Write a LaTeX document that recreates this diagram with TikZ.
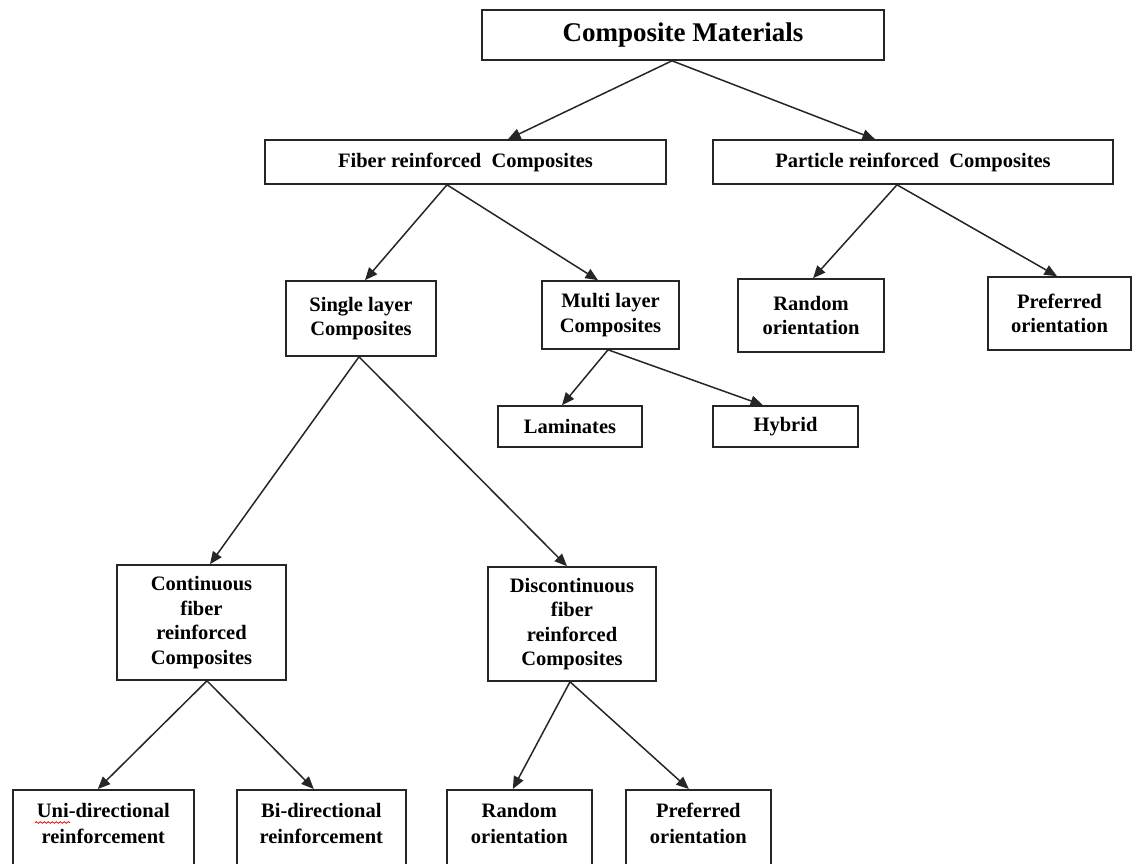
\documentclass[tikz,border=0pt]{standalone}
\usepackage{fontspec}
\setmainfont{Liberation Serif}
\usetikzlibrary{arrows.meta,decorations.pathmorphing}

\tikzset{
  box/.style={draw=black!85, line width=1.6pt, rectangle, inner sep=0pt,
              align=center, font=\bfseries\fontsize{20.5}{24.5}\selectfont},
  title/.style={box, font=\bfseries\fontsize{27}{32}\selectfont},
  lbl/.style={inner sep=0pt, align=center, anchor=north,
              font=\bfseries\fontsize{20.5}{26}\selectfont},
  arr/.style={draw=black!85, line width=1.5pt,
              -{Triangle[length=12.5pt,width=10.5pt]}},
  spell/.style={draw=red!85!black, line width=0.7pt,
                decorate, decoration={snake, amplitude=0.9pt, segment length=4pt}}
}

\begin{document}
\begin{tikzpicture}[x=1pt, y=-1pt]
  \useasboundingbox (0,0) rectangle (1133,863);
  \clip (0,0) rectangle (1133,863);

  % top level
  \node[title, minimum width=402pt, minimum height=50pt] (cm) at (683,35) {Composite Materials};

  % second level
  \node[box, minimum width=401pt, minimum height=44pt] (fiber) at (465.5,162) {Fiber reinforced~ Composites};
  \node[box, minimum width=400pt, minimum height=44pt] (particle) at (913,162) {Particle reinforced~ Composites};

  % third level
  \node[box, minimum width=150pt, minimum height=75pt] (single) at (361,318.5) {Single layer\\Composites};
  \node[box, minimum width=137pt, minimum height=68pt] (multi) at (610.5,315) {Multi layer\\Composites};
  \node[box, minimum width=146pt, minimum height=73pt] (rand1) at (811,315.5) {Random\\orientation};
  \node[box, minimum width=143pt, minimum height=73pt] (pref1) at (1059.5,313.5) {Preferred\\orientation};

  % multi layer children
  \node[box, minimum width=144pt, minimum height=41pt] (lam) at (570,426.5) {Laminates};
  \node[box, minimum width=145pt, minimum height=41pt] (hyb) at (785.5,426.5) {Hybrid};

  % fourth level
  \node[box, minimum width=169pt, minimum height=115pt] (cont) at (201.5,622.5) {Continuous\\fiber\\reinforced\\Composites};
  \node[box, minimum width=168pt, minimum height=114pt] (disc) at (572,624) {Discontinuous\\fiber\\reinforced\\Composites};

  % bottom level (boxes run past the lower edge)
  \node[box, anchor=north west, minimum width=181pt, minimum height=110pt] (uni) at (12,789) {};
  \node[box, anchor=north west, minimum width=169pt, minimum height=110pt] (bi) at (236,789) {};
  \node[box, anchor=north west, minimum width=145pt, minimum height=110pt] (rand2) at (446,789) {};
  \node[box, anchor=north west, minimum width=145pt, minimum height=110pt] (pref2) at (625,789) {};

  \node[lbl] (uniT) at ([yshift=-14pt]uni.north) {Uni-directional\\reinforcement};
  \node[lbl] (biT) at ([yshift=-14pt]bi.north) {Bi-directional\\reinforcement};
  \node[lbl] (rand2T) at ([yshift=-14pt]rand2.north) {Random\\orientation};
  \node[lbl] (pref2T) at ([yshift=-14pt]pref2.north) {Preferred\\orientation};

  % spell-check squiggle under "Uni"
  \draw[spell] ([xshift=23pt,yshift=-33.5pt]uni.north west) -- ([xshift=58pt,yshift=-33.5pt]uni.north west);

  % connectors
  \draw[arr] ([xshift=-11pt]cm.south) -- ([xshift=42.5pt]fiber.north);
  \draw[arr] ([xshift=-11pt]cm.south) -- ([xshift=-38pt]particle.north);

  \draw[arr] ([xshift=-18.5pt]fiber.south) -- ([xshift=4pt]single.north);
  \draw[arr] ([xshift=-18.5pt]fiber.south) -- ([xshift=-12.5pt]multi.north);

  \draw[arr] ([xshift=-16pt]particle.south) -- ([xshift=2pt]rand1.north);
  \draw[arr] ([xshift=-16pt]particle.south) -- ([xshift=-2.5pt]pref1.north);

  \draw[arr] ([xshift=-2.5pt]multi.south) -- ([xshift=-8pt]lam.north);
  \draw[arr] ([xshift=-2.5pt]multi.south) -- ([xshift=-22.5pt]hyb.north);

  \draw[arr] ([xshift=-2pt]single.south) -- ([xshift=8.5pt]cont.north);
  \draw[arr] ([xshift=-2pt]single.south) -- ([xshift=-5pt]disc.north);

  \draw[arr] ([xshift=5.5pt]cont.south) -- ([xshift=-5.5pt]uni.north);
  \draw[arr] ([xshift=5.5pt]cont.south) -- ([xshift=-7.5pt]bi.north);

  \draw[arr] ([xshift=-2pt]disc.south) -- ([xshift=-6.5pt]rand2.north);
  \draw[arr] ([xshift=-2pt]disc.south) -- ([xshift=-9.5pt]pref2.north);
\end{tikzpicture}
\end{document}
